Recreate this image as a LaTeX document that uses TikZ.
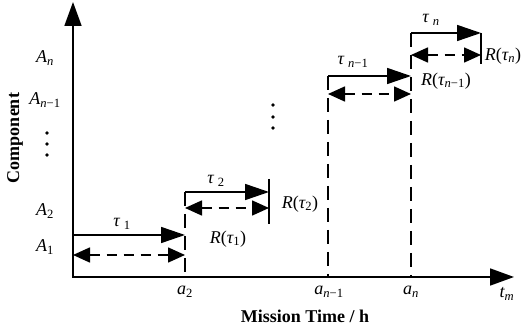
\documentclass[tikz,border=0pt]{standalone}
\usepackage{fontspec}
\setmainfont{Liberation Serif}
\usetikzlibrary{arrows.meta}
\newcommand{\sbs}[1]{\textsubscript{#1}}
\newcommand{\itl}[1]{{\itshape #1}}
\begin{document}
\begin{tikzpicture}[x=1pt,y=-1pt,
  axisline/.style={line width=1.8pt, {Triangle[length=24pt,width=17pt]}-{Triangle[length=24pt,width=17pt]}},
  solidarr/.style={line width=1.6pt, -{Triangle[length=24pt,width=16pt]}},
  dasharr/.style={line width=1.6pt, dash pattern=on 10pt off 7pt, {Triangle[length=17pt,width=15pt]}-{Triangle[length=17pt,width=15pt]}},
  vdash/.style={line width=1.4pt, dash pattern=on 14pt off 8pt},
  barline/.style={line width=1.6pt},
  lab/.style={font=\fontsize{18}{21}\selectfont, inner sep=0pt},
  boldlab/.style={font=\fontsize{18}{21}\selectfont\bfseries, inner sep=0pt},
  dot/.style={circle, fill=black, inner sep=0pt, minimum size=3.8pt}
]
\useasboundingbox (0,0) rectangle (525,328);
% axes
\coordinate (O) at (73,277);
\coordinate (Ytop) at (73,2);
\coordinate (Xend) at (514,277);
\draw[axisline] (Ytop) -- (O) -- (Xend);

% step 1
\coordinate (s1a) at (73,235);
\coordinate (s1b) at (185,235);
\coordinate (d1a) at (73,255);
\coordinate (d1b) at (185,255);
\draw[solidarr] (s1a) -- (s1b);
\draw[dasharr] (d1a) -- (d1b);

% step 2
\coordinate (v2t) at (185,192);
\coordinate (v2b) at (185,277);
\coordinate (s2b) at (269,192);
\coordinate (d2a) at (185,208);
\coordinate (d2b) at (269,208);
\coordinate (b2t) at (269,179);
\coordinate (b2b) at (269,224);
\draw[vdash] (v2t) -- (v2b);
\draw[solidarr] (v2t) -- (s2b);
\draw[dasharr] (d2a) -- (d2b);
\draw[barline] (b2t) -- (b2b);

% step n-1
\coordinate (vn1t) at (328,76);
\coordinate (vn1b) at (328,277);
\coordinate (sn1b) at (411,76);
\coordinate (dn1a) at (328,94);
\coordinate (dn1b) at (411,94);
\draw[vdash] (vn1t) -- (vn1b);
\draw[solidarr] (vn1t) -- (sn1b);
\draw[dasharr] (dn1a) -- (dn1b);

% step n
\coordinate (vnt) at (411,33);
\coordinate (vnb) at (411,277);
\coordinate (snb) at (481,33);
\coordinate (dna) at (411,55);
\coordinate (dnb) at (481,55);
\coordinate (bnb) at (481,64);
\draw[vdash] (vnt) -- (vnb);
\draw[solidarr] (vnt) -- (snb);
\draw[dasharr] (dna) -- (dnb);
\draw[barline] (snb) -- (bnb);

% y labels
\node[lab] (An) at (45,58) {\itl{A}\sbs{\itl{n}}};
\node[lab] (An1) at (45,100) {\itl{A}\sbs{\itl{n}−1}};
\node[lab] (A2) at (45,211) {\itl{A}\sbs{2}};
\node[lab] (A1) at (45,247) {\itl{A}\sbs{1}};
\node[dot] (ld1) at (47,133) {};
\node[dot] (ld2) at (47,144) {};
\node[dot] (ld3) at (47,155) {};
\node[dot] (md1) at (273,105) {};
\node[dot] (md2) at (273,117) {};
\node[dot] (md3) at (273,128) {};

% x labels
\node[lab] (xa2) at (185,292) {\itl{a}\sbs{2}};
\node[lab] (xan1) at (329,292) {\itl{a}\sbs{\itl{n}−1}};
\node[lab] (xan) at (411,292) {\itl{a}\sbs{\itl{n}}};
\node[lab] (xtm) at (507,294) {\itl{t}\sbs{\itl{m}}};

% tau labels
\node[lab] (t1) at (122,224) {\itl{τ}\hspace{4pt}\sbs{1}};
\node[lab] (t2) at (216,181) {\itl{τ}\hspace{4pt}\sbs{2}};
\node[lab] (tn1) at (353,62) {\itl{τ}\hspace{4pt}\sbs{\itl{n}−1}};
\node[lab] (tn) at (431,20) {\itl{τ}\hspace{4pt}\sbs{\itl{n}}};

% R labels
\node[lab] (r1) at (228,239) {\itl{R}(\itl{τ}\sbs{1})};
\node[lab] (r2) at (300,204) {\itl{R}(\itl{τ}\sbs{2})};
\node[lab] (rn1) at (446,81) {\itl{R}(\itl{τ}\sbs{\itl{n}−1})};
\node[lab] (rn) at (503,56) {\itl{R}(\itl{τ}\sbs{\itl{n}})};

% axis titles
\node[boldlab, rotate=90] (ylab) at (15,138) {Component};
\node[boldlab] (xlab) at (305,316) {Mission Time / h};
\end{tikzpicture}
\end{document}
